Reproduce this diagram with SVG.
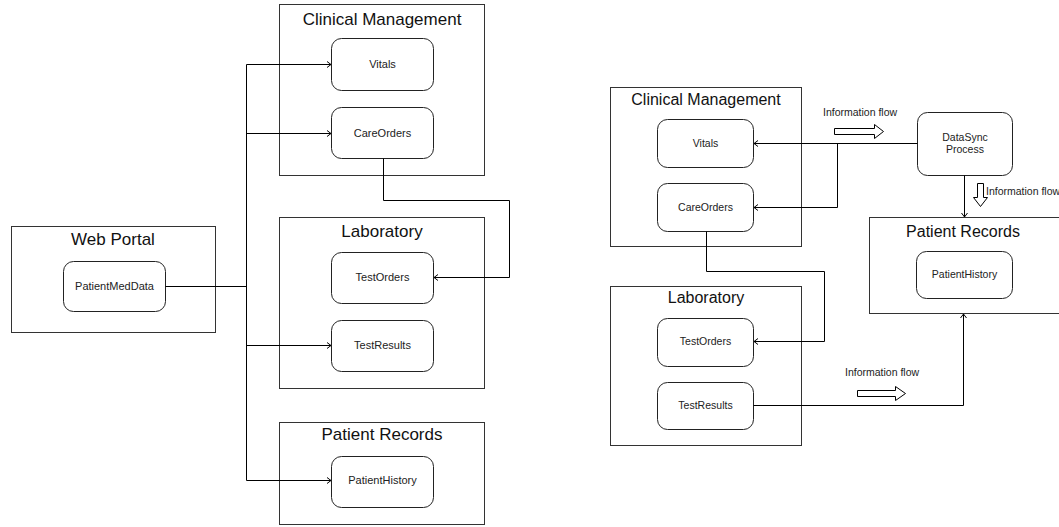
<svg xmlns="http://www.w3.org/2000/svg" width="1059" height="527" viewBox="0 0 1059 527">
<style>
.box{fill:#fff;stroke:#333;stroke-width:1}
.node{fill:#fff;stroke:#222;stroke-width:1}
.t1{font-family:"Liberation Sans",Arial,sans-serif;font-size:17px;fill:#111;text-anchor:middle}
.t2{font-family:"Liberation Sans",Arial,sans-serif;font-size:16px;fill:#111;text-anchor:middle}
.n1{font-family:"Liberation Sans",Arial,sans-serif;font-size:11px;fill:#222;text-anchor:middle}
.n2{font-family:"Liberation Sans",Arial,sans-serif;font-size:10.5px;fill:#222;text-anchor:middle}
.lbl{font-family:"Liberation Sans",Arial,sans-serif;font-size:10.5px;fill:#222}
.c{fill:none;stroke:#000;stroke-width:1}
.blk{fill:#fff;stroke:#000;stroke-width:1}
</style>
<defs>
<marker id="ar" markerWidth="8" markerHeight="8" refX="6" refY="4" orient="auto" markerUnits="userSpaceOnUse">
<path d="M2,1 L6,4 L2,7" fill="none" stroke="#000" stroke-width="1"/>
</marker>
</defs>
<rect width="1059" height="527" fill="#fff"/>

<!-- Left diagram -->
<g id="webportal">
<rect class="box" x="11.5" y="226.5" width="204" height="106"/>
<text class="t1" x="113" y="245">Web Portal</text>
</g>
<g id="patientmeddata">
<rect class="node" x="63.5" y="261.5" width="102" height="50" rx="10"/>
<text class="n1" x="114.5" y="290">PatientMedData</text>
</g>
<g id="clinical-left">
<rect class="box" x="279.5" y="4.5" width="205" height="171"/>
<text class="t1" x="382" y="25">Clinical Management</text>
</g>
<g id="vitals-left">
<rect class="node" x="331.5" y="38.5" width="102" height="52" rx="10"/>
<text class="n1" x="382.5" y="68">Vitals</text>
</g>
<g id="careorders-left">
<rect class="node" x="331.5" y="107.5" width="102" height="51" rx="10"/>
<text class="n1" x="382.5" y="137">CareOrders</text>
</g>
<g id="laboratory-left">
<rect class="box" x="279.5" y="217.5" width="205" height="171"/>
<text class="t1" x="382" y="237">Laboratory</text>
</g>
<g id="testorders-left">
<rect class="node" x="331.5" y="252.5" width="102" height="51" rx="10"/>
<text class="n1" x="382.5" y="281">TestOrders</text>
</g>
<g id="testresults-left">
<rect class="node" x="331.5" y="320.5" width="102" height="51" rx="10"/>
<text class="n1" x="382.5" y="349">TestResults</text>
</g>
<g id="patientrecords-left">
<rect class="box" x="279.5" y="422.5" width="205" height="102"/>
<text class="t1" x="382" y="440">Patient Records</text>
</g>
<g id="patienthistory-left">
<rect class="node" x="331.5" y="456.5" width="102" height="51" rx="10"/>
<text class="n1" x="382.5" y="484">PatientHistory</text>
</g>

<!-- Right diagram -->
<g id="clinical-right">
<rect class="box" x="610.5" y="87.5" width="191" height="159"/>
<text class="t2" x="706" y="105">Clinical Management</text>
</g>
<g id="vitals-right">
<rect class="node" x="657.5" y="119.5" width="96" height="48" rx="10"/>
<text class="n2" x="705.5" y="147">Vitals</text>
</g>
<g id="careorders-right">
<rect class="node" x="657.5" y="183.5" width="96" height="48" rx="10"/>
<text class="n2" x="705.5" y="211">CareOrders</text>
</g>
<g id="laboratory-right">
<rect class="box" x="610.5" y="286.5" width="191" height="159"/>
<text class="t2" x="706" y="303">Laboratory</text>
</g>
<g id="testorders-right">
<rect class="node" x="657.5" y="318.5" width="96" height="48" rx="10"/>
<text class="n2" x="705.5" y="345">TestOrders</text>
</g>
<g id="testresults-right">
<rect class="node" x="657.5" y="382.5" width="96" height="47" rx="10"/>
<text class="n2" x="705.5" y="409">TestResults</text>
</g>
<g id="datasync">
<rect class="node" x="917.5" y="112.5" width="95" height="63" rx="10"/>
<text class="n2" x="965" y="141">DataSync</text>
<text class="n2" x="965" y="153">Process</text>
</g>
<g id="patientrecords-right">
<rect class="box" x="869.5" y="217.5" width="196" height="96"/>
<text class="t2" x="963" y="237">Patient Records</text>
</g>
<g id="patienthistory-right">
<rect class="node" x="916.5" y="251.5" width="96" height="47" rx="10"/>
<text class="n2" x="964.5" y="278">PatientHistory</text>
</g>

<!-- Connectors -->
<g id="connectors">
<path class="c" d="M165.5,286.5 H246.5"/>
<path class="c" d="M246.5,64.5 V480.5"/>
<path class="c" d="M246.5,64.5 H331" marker-end="url(#ar)"/>
<path class="c" d="M246.5,133.5 H331" marker-end="url(#ar)"/>
<path class="c" d="M246.5,345.5 H331" marker-end="url(#ar)"/>
<path class="c" d="M246.5,480.5 H331" marker-end="url(#ar)"/>
<path class="c" d="M383.5,158.5 V200.5 H509.5 V277.5 H434" marker-end="url(#ar)"/>

<path class="c" d="M917.5,143.5 H754" marker-end="url(#ar)"/>
<path class="c" d="M837.5,143.5 V207.5 H754" marker-end="url(#ar)"/>
<path class="c" d="M706.5,231.5 V271.5 H824.5 V341.5 H754" marker-end="url(#ar)"/>
<path class="c" d="M753.5,405.5 H963.5 V314" marker-end="url(#ar)"/>
<path class="c" d="M964.5,175.5 V217" marker-end="url(#ar)"/>
</g>

<!-- Information flow labels -->
<g id="flow-top">
<text class="lbl" x="823" y="116">Information flow</text>
<polygon class="blk" points="834.5,128.5 874.5,128.5 874.5,124.5 883.5,131.5 874.5,138.5 874.5,134.5 834.5,134.5"/>
</g>
<g id="flow-down">
<polygon class="blk" points="977.5,183.5 983.5,183.5 983.5,197.5 987.5,197.5 980.5,206.5 973.5,197.5 977.5,197.5"/>
<text class="lbl" x="986" y="195">Information flow</text>
</g>
<g id="flow-bottom">
<text class="lbl" x="845" y="376">Information flow</text>
<polygon class="blk" points="857.5,390.5 895.5,390.5 895.5,386.5 905.5,393.5 895.5,400.5 895.5,396.5 857.5,396.5"/>
</g>
</svg>
